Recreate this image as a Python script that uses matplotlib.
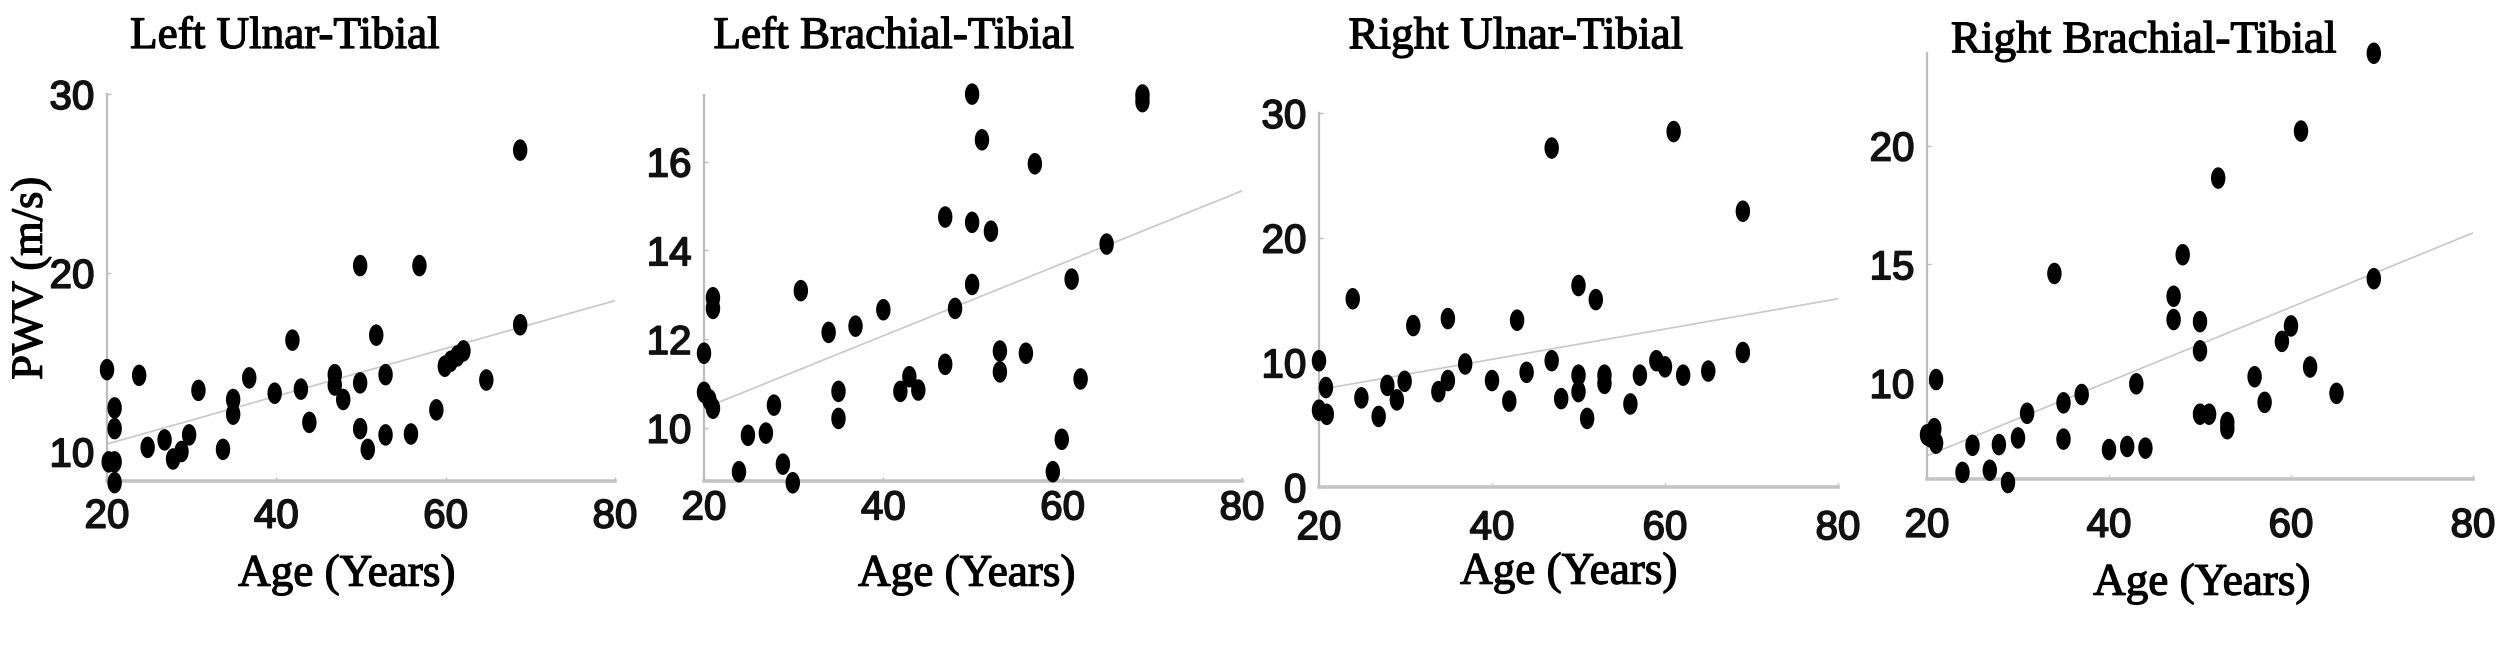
import numpy as np
import matplotlib
matplotlib.use("Agg")
import matplotlib.pyplot as plt
from matplotlib.path import Path
from matplotlib import font_manager
import matplotlib.patheffects as pe

# Left Ulnar-Tibial
lut_age = [20, 20.9, 20.9, 20.2, 20.9, 20.9, 23.8, 24.8, 26.8, 27.8, 28.8, 29.7, 30.8, 33.7,
           34.9, 34.9, 36.8, 39.8, 41.9, 42.9, 43.9, 46.9, 46.9, 47.9, 49.9, 49.9, 49.9, 50.8,
           51.8, 52.9, 52.9, 55.9, 56.9, 58.9, 59.9, 60.6, 61.4, 62.1, 64.8, 68.8, 68.8]
lut_pwv = [14.58, 12.44, 11.28, 9.42, 9.42, 8.26, 14.26, 10.23, 10.65, 9.58, 10.0, 10.93, 13.42, 10.12,
           12.91, 12.09, 14.12, 13.26, 16.23, 13.49, 11.63, 14.3, 13.72, 12.91, 20.4, 13.84, 11.28, 10.12,
           16.51, 14.3, 10.93, 10.98, 20.4, 12.33, 14.77, 15.05, 15.35, 15.63, 14.0, 26.86, 17.09]
lut_fit = [10.42, 18.44]

# Left Brachial-Tibial
lbt_age = [20, 20, 20.6, 21.0, 21.0, 21.0, 23.9, 24.9, 26.9, 27.8, 28.8, 29.9, 30.8, 33.9,
           35.0, 35.0, 36.9, 40.0, 41.9, 42.9, 43.9, 46.9, 46.9, 48.0, 49.9, 49.9, 49.9, 51.0,
           52.0, 53.0, 53.0, 55.9, 56.9, 58.9, 59.9, 61.0, 62.0, 64.9, 68.9, 68.9]
lbt_pwv = [11.68, 10.80, 10.63, 10.44, 12.93, 12.69, 9.01, 9.83, 9.88, 10.51, 9.18, 8.76, 13.09, 12.15,
           10.82, 10.21, 12.29, 12.66, 10.82, 11.15, 10.85, 14.75, 11.43, 12.69, 17.52, 14.63, 13.23, 16.49,
           14.43, 11.73, 11.26, 11.68, 15.95, 9.01, 9.74, 13.35, 11.10, 14.14, 17.50, 17.35]
lbt_fit = [10.44, 15.34]

# Right Ulnar-Tibial
rut_age = [20, 20, 20.8, 20.9, 23.9, 24.9, 26.9, 27.9, 29.0, 29.9, 30.9, 33.8, 34.9, 34.9,
           36.9, 40.0, 42.0, 42.9, 44.0, 46.9, 46.9, 48.0, 50.0, 50.0, 50.0, 51.0, 52.0, 53.0,
           53.0, 56.0, 57.1, 59.0, 60.0, 61.0, 62.1, 65.0, 69.0, 69.0]
rut_pwv = [10.13, 6.16, 7.98, 5.83, 15.1, 7.15, 5.66, 8.15, 6.99, 8.48, 12.95, 7.65, 8.54, 13.51,
           9.87, 8.54, 6.89, 13.38, 9.2, 27.19, 10.13, 7.09, 16.16, 8.97, 7.65, 5.5, 15.03, 8.97,
           8.31, 6.66, 8.97, 10.13, 9.64, 28.51, 8.97, 9.3, 22.12, 10.79]
rut_fit = [7.81, 15.1]

# Right Brachial-Tibial
rbt_age = [20, 20.4, 20.8, 21.0, 21.0, 23.9, 25.0, 26.9, 27.9, 28.9, 30.0, 31.0, 34.0, 35.0,
           35.0, 37.0, 40.0, 42.0, 43.0, 44.0, 47.1, 47.1, 48.1, 50.0, 50.0, 50.0, 51.0, 52.0,
           53.0, 53.0, 56.0, 57.1, 59.0, 60.0, 61.1, 62.1, 65.0, 69.1, 69.1]
rbt_pwv = [7.81, 7.72, 8.07, 7.46, 10.14, 6.23, 7.37, 6.32, 7.40, 5.80, 7.68, 8.72, 14.61, 9.16,
           7.63, 9.51, 7.19, 7.32, 9.96, 7.25, 13.65, 12.67, 15.4, 12.58, 11.35, 8.68, 8.68, 18.63,
           8.33, 8.07, 10.26, 9.18, 11.75, 12.4, 20.61, 10.67, 9.56, 23.89, 14.39]
rbt_fit = [6.93, 16.32]

titles = ["Left Ulnar-Tibial", "Left Brachial-Tibial", "Right Ulnar-Tibial", "Right Brachial-Tibial"]
fit_ages = [20, 80]

W, H = 2513, 648
fig = plt.figure(figsize=(W / 100, H / 100), dpi=100)

def px_box(left, right, top, bottom):
    return [left / W, 1 - bottom / H, (right - left) / W, (bottom - top) / H]

# tall ellipse marker like the original dots
t = np.linspace(0, 2 * np.pi, 60)
dot = Path(np.column_stack([0.67 * np.cos(t), np.sin(t)]), closed=True)

installed = {f.name for f in font_manager.fontManager.ttflist}
serif = ["Liberation Serif", "DejaVu Serif"]
if "Liberation Sans Narrow" in installed:
    narrow = ["Liberation Sans Narrow", "DejaVu Sans"]
else:
    narrow = ["Liberation Sans", "DejaVu Sans"]

thick = [pe.withStroke(linewidth=0.9, foreground="black")]

panels = [
    (lut_age, lut_pwv, lut_fit, (107, 615, 94, 481), (8.35, 30), [10, 20, 30], 285, 37, 347, 575, 12),
    (lbt_age, lbt_pwv, lbt_fit, (704, 1242, 95, 481), (8.8, 17.5), [10, 12, 14, 16], 894, 37, 967, 575, 6),
    (rut_age, rut_pwv, rut_fit, (1319, 1838, 113, 487), (0, 30), [0, 10, 20, 30], 1516, 37, 1569, 573, 16),
    (rbt_age, rbt_pwv, rbt_fit, (1927, 2473, 53, 479), (5.95, 23.9), [10, 15, 20], 2144, 41, 2202, 584, 20),
]

for i, (age, pwv, fit, box, ylim, yt, tx, ty, lx, ly, xpad) in enumerate(panels):
    ax = fig.add_axes(px_box(*box))
    ax.plot(fit_ages, fit, color="#c8c8c8", lw=1.2, zorder=1)
    ax.scatter(age, pwv, s=240, marker=dot, color="black", edgecolors="none",
               clip_on=False, zorder=3)
    ax.set_xlim(20, 80)
    ax.set_ylim(*ylim)
    ax.set_xticks([20, 40, 60, 80])
    ax.set_yticks(yt)
    for s in ["top", "right"]:
        ax.spines[s].set_visible(False)
    ax.spines["left"].set_color("#bdbdbd")
    ax.spines["left"].set_linewidth(1.6)
    ax.spines["bottom"].set_color("#c4c4c4")
    ax.spines["bottom"].set_linewidth(2.6)
    ax.tick_params(direction="in", length=3, width=1, color="#bdbdbd",
                   labelsize=29, labelcolor="#111111")
    ax.tick_params(axis="x", pad=xpad)
    ax.tick_params(axis="y", pad=9)
    for lab in ax.get_xticklabels() + ax.get_yticklabels():
        lab.set_family(narrow)
        lab.set_path_effects([pe.withStroke(linewidth=1.2, foreground="#111111")])
    fig.text(tx / W, 1 - ty / H, titles[i], family=serif, fontsize=32.5,
             ha="center", va="center", path_effects=thick)
    fig.text(lx / W, 1 - ly / H, "Age (Years)", family=serif, fontsize=32.5,
             ha="center", va="center", path_effects=thick)

fig.text(31 / W, 1 - 278 / H, "PWV (m/s)", family=serif, fontsize=32,
         rotation=90, ha="center", va="center", path_effects=thick)

fig.savefig("out.png", dpi=100, facecolor="white")
